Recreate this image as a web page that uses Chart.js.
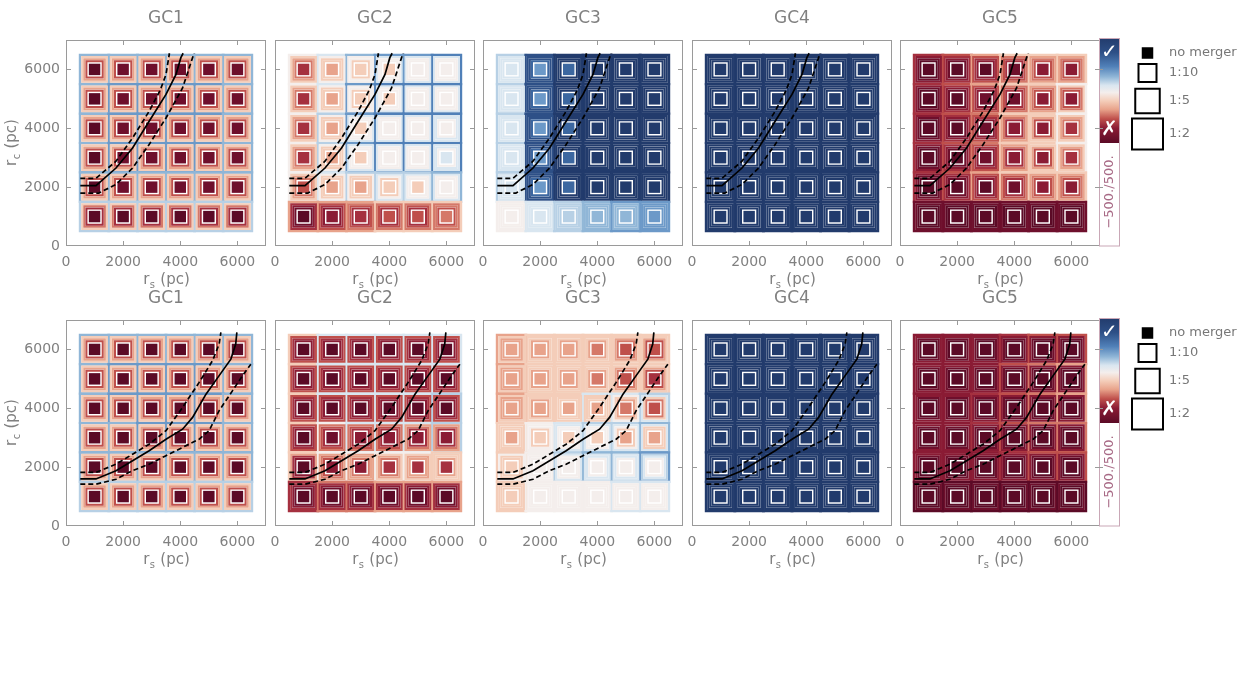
<!DOCTYPE html>
<html>
<head>
<meta charset="utf-8">
<script src="https://cdn.jsdelivr.net/npm/chart.js@4.4.1/dist/chart.umd.min.js"></script>
<style>
  body { margin: 0; background: #fff; width: 1256px; height: 689px; position: relative; overflow: hidden; }
  canvas { position: absolute; }
</style>
</head>
<body>
<script>
// grid of simulations: scale radius r_s and core radius r_c (pc)
const rs = [1000, 2000, 3000, 4000, 5000, 6000];
const rc = [6000, 5000, 4000, 3000, 2000, 1000];
const tickVals = [0, 2000, 4000, 6000];
const panelNames = ['GC1', 'GC2', 'GC3', 'GC4', 'GC5'];
const mergerLabels = ['no merger', '1:10', '1:5', '1:2'];

// colour level per cell, 'a' = strongly ruled out (dark red) ... 'i' = neutral ... 'q' = strongly favoured (navy)
const levels = 'abcdefghijklmnopq';
const palette = ['#5b0a26', '#6e0f2c', '#8a1b34', '#a5303f', '#bf4f4b', '#d57868', '#e8a38b', '#f4cdb9',
  '#f4eeec', '#d9e6f0', '#b7d0e5', '#90b6d7', '#6c99c8', '#5080b8', '#3c67a0', '#2e5087', '#223b6c'];

// each panel: [no merger, 1:10, 1:5, 1:2, outer], rows from r_c = 6000 down to 1000
const topGC1 = [
  ['abbbbb', 'abbbbb', 'abbbbb', 'abbbbb', 'abbbbb', 'aaaaaa'],
  ['eeeeee', 'eeeeee', 'eeeeee', 'eeeeee', 'eeeeee', 'dddddd'],
  ['gggggg', 'gggggg', 'gggggg', 'gggggg', 'gggggg', 'ffffff'],
  ['hhhhhh', 'hhhhhh', 'hhhhhh', 'hhhhhh', 'hhhhhh', 'hhhhhh'],
  ['llllll', 'lmmmml', 'lmmmml', 'lmmmml', 'llllll', 'kkkkkk']
];
const topGC2 = [
  ['dghhii', 'dghhii', 'dghiii', 'dghiij', 'egghhi', 'acdeef'],
  ['fhhiii', 'fhhiii', 'fhiiii', 'fhiiii', 'fhhhii', 'bcddde'],
  ['ghiiii', 'ghiiii', 'ghiiij', 'ghiiij', 'ghhiii', 'cdeeef'],
  ['hiijjj', 'hiijjj', 'hijjjj', 'hijjjj', 'hiijjj', 'deffff'],
  ['ijlmmn', 'ijmnnn', 'ikmnnn', 'ikmnnn', 'ijkkkl', 'ggghhh']
];
const topGC3 = [
  ['jmoqqq', 'jmoqqq', 'jmoqqq', 'jmoqqq', 'jmoqqq', 'ijkllm'],
  ['joqqqq', 'joqqqq', 'joqqqq', 'joqqqq', 'joqqqq', 'ijkllm'],
  ['jpqqqq', 'jpqqqq', 'jpqqqq', 'jpqqqq', 'jpqqqq', 'ijkllm'],
  ['jpqqqq', 'jpqqqq', 'jpqqqq', 'jpqqqq', 'jpqqqq', 'ijkllm'],
  ['kpqqqq', 'kpqqqq', 'kpqqqq', 'kpqqqq', 'kpqqqq', 'ijklmm']
];
const topGC4 = [
  ['qqqqqq', 'qqqqqq', 'qqqqqq', 'qqqqqq', 'qqqqqq', 'qqqqqq'],
  ['qqqqqq', 'qqqqqq', 'qqqqqq', 'qqqqqq', 'qqqqqq', 'qqqqqq'],
  ['qqqqqq', 'qqqqqq', 'qqqqqq', 'qqqqqq', 'qqqqqq', 'qqqqqq'],
  ['qqqqqq', 'qqqqqq', 'qqqqqq', 'qqqqqq', 'qqqqqq', 'qqqqqq'],
  ['qqqqqq', 'qqqqqq', 'qqqqqq', 'qqqqqq', 'qqqqqq', 'qqqqqq']
];
const topGC5 = [
  ['aaabcc', 'aabbcc', 'aabccd', 'aabccd', 'aaabcc', 'aaaaaa'],
  ['abcdee', 'abcdee', 'abcdef', 'abcdef', 'abcdee', 'aaaaaa'],
  ['bcdeff', 'bcdeff', 'bcdfgg', 'bcdfgg', 'bcdeff', 'aaaaaa'],
  ['cdefgg', 'cdefgh', 'cdeghh', 'cdeghh', 'cdefgg', 'bbbbbb'],
  ['deghhh', 'deghhi', 'defhhi', 'defhhi', 'deghhh', 'bbbbbb']
];
const botGC1 = [
  ['aaaaaa', 'aaaaaa', 'aaaaaa', 'aaaaaa', 'aaaaaa', 'aaaaaa'],
  ['eeeeee', 'eeeeee', 'eeeeee', 'eeeeee', 'eeeeee', 'eeeeee'],
  ['gggggg', 'gggggg', 'gggggg', 'gggggg', 'gggggg', 'gggggg'],
  ['hhhhhh', 'hhhhhh', 'hhhhhh', 'hhhhhh', 'hhhhhh', 'hhhhhh'],
  ['llllll', 'lmmmml', 'lmmmml', 'llmmml', 'llllll', 'kkkkkk']
];
const botGC2 = [
  ['aaaaaa', 'aaaaaa', 'aaaaaa', 'abcccc', 'accddd', 'aaaaaa'],
  ['cccccc', 'cccccc', 'cccccc', 'cddddd', 'ceffgg', 'bbbbbb'],
  ['dddddd', 'dddddd', 'dddddd', 'deeeff', 'dfgggh', 'cccccc'],
  ['eeeeee', 'eeeeee', 'eeeeee', 'efffgg', 'ggghhh', 'dddddd'],
  ['hjjjjj', 'hjjjjj', 'hjjjjk', 'hijjjk', 'hiiiih', 'dffggg']
];
const botGC3 = [
  ['gggfee', 'gggfed', 'ggggfe', 'ghhhgg', 'hiiiii', 'hiiiii'],
  ['ggggfe', 'ggggfe', 'gghhgf', 'hhiihh', 'hiiiii', 'hiiiii'],
  ['ghhhgg', 'ghhhgg', 'ghhhhh', 'hiiiih', 'hiijjj', 'hiiiii'],
  ['hhhhhh', 'hhhhhh', 'hhhhij', 'hijjjj', 'iijjjk', 'hiiiii'],
  ['ghhhhh', 'ghhhhh', 'ghhjjk', 'hijkkl', 'hikllm', 'hiiijj']
];
const botGC4 = topGC4;
const botGC5 = [
  ['aaaaaa', 'aaaaaa', 'aaaaaa', 'aaaaaa', 'aaaaaa', 'aaaaaa'],
  ['aaaaaa', 'aaaaaa', 'aaaaaa', 'aaaaaa', 'aaaaaa', 'aaaaaa'],
  ['bbbbbb', 'bbbbbb', 'bbbbbb', 'bbbbbb', 'bbbbbb', 'aaaaaa'],
  ['cccccc', 'cccccc', 'cccccc', 'cccccc', 'cccccc', 'bbbbbb'],
  ['cccdee', 'cccefg', 'ccdefg', 'ccdeff', 'cccdee', 'aaaaaa']
];

// r_c(r_s) relation and its scatter, top and bottom rows
const topSolid = [[500, 2050], [1050, 2050], [1750, 2650], [2330, 3330], [2910, 4240], [3500, 5150], [3850, 5830], [4020, 6400], [4100, 6550]];
const topUpper = [[500, 2300], [1050, 2300], [1750, 2880], [2330, 3670], [2910, 4580], [3300, 5300], [3500, 5830], [3620, 6550]];
const topLower = [[500, 1800], [1150, 1800], [1750, 2090], [2330, 2650], [2910, 3450], [3500, 4350], [4080, 5370], [4430, 6400], [4490, 6550]];
const botSolid = [[500, 1600], [1050, 1600], [1750, 1880], [2330, 2220], [2910, 2560], [3500, 2950], [4080, 3290], [4430, 3690], [4900, 4480], [5360, 5110], [5770, 5670], [5940, 6180], [5980, 6580]];
const botUpper = [[500, 1820], [1050, 1820], [1750, 2100], [2330, 2440], [2910, 2780], [3500, 3240], [4080, 4030], [4660, 4880], [5130, 5620], [5360, 6180], [5420, 6580]];
const botLower = [[500, 1420], [1050, 1420], [1750, 1590], [2330, 1880], [2910, 2100], [3500, 2390], [4080, 2670], [4660, 2950], [5010, 3240], [5360, 3920], [5830, 4600], [6180, 5110], [6470, 5500]];

// ring sizes as fraction of the 1000 pc grid spacing, and line widths
const ringSide = [0.40, 0.57, 0.72, 0.865, 1.02];
const ringWidth = [0, 2, 2, 2, 2.4];
const grey = '#808080';
const font = '"DejaVu Sans", sans-serif';

const colorOf = ch => palette[levels.indexOf(ch)];
const cells = [];
rc.forEach(yv => rs.forEach(xv => cells.push({ x: xv, y: yv })));

function subLabel(ctx, sub, cx, cy) {
  ctx.textAlign = 'left';
  ctx.textBaseline = 'middle';
  ctx.font = '15px ' + font;
  const w1 = ctx.measureText('r').width, w3 = ctx.measureText(' (pc)').width;
  ctx.font = '10px ' + font;
  const w2 = ctx.measureText(sub).width;
  let x0 = cx - (w1 + w2 + w3) / 2;
  ctx.font = '15px ' + font;
  ctx.fillText('r', x0, cy);
  ctx.font = '10px ' + font;
  ctx.fillText(sub, x0 + w1 + 0.5, cy + 5);
  ctx.font = '15px ' + font;
  ctx.fillText(' (pc)', x0 + w1 + w2 + 1, cy);
}

function drawExtras(ctx, a, y) {
  // colour bar
  const L = a.right - 1, W = 21, T = a.top - 2, G = a.top + 103;
  const grad = ctx.createLinearGradient(0, T, 0, G);
  [[0, 'q'], [0.14, 'p'], [0.27, 'n'], [0.37, 'l'], [0.45, 'j'], [0.52, 'i'], [0.6, 'h'], [0.68, 'g'], [0.77, 'e'], [0.86, 'c'], [1, 'a']]
    .forEach(([s, c]) => grad.addColorStop(s, colorOf(c)));
  ctx.fillStyle = grad;
  ctx.fillRect(L, T, W, G - T);
  ctx.strokeStyle = '#c9a7b6';
  ctx.lineWidth = 1;
  ctx.strokeRect(L + 0.5, T + 0.5, W - 1, a.bottom - T - 0.5);
  ctx.strokeStyle = '#9a9a9a';
  ctx.beginPath();
  [2000, 4000, 6000].forEach(v => {
    const py = Math.round(y.getPixelForValue(v)) + 0.5;
    ctx.moveTo(L, py); ctx.lineTo(L + 4, py);
  });
  ctx.stroke();
  ctx.fillStyle = '#fff';
  ctx.textAlign = 'center';
  ctx.textBaseline = 'middle';
  ctx.font = 'bold 20px ' + font;
  ctx.fillText('\u2713', L + W / 2, a.top + 13);
  ctx.fillText('\u2717', L + W / 2, a.top + 90);
  ctx.save();
  ctx.translate(L + W / 2, a.top + 152);
  ctx.rotate(-Math.PI / 2);
  ctx.fillStyle = '#a86a86';
  ctx.font = '13px ' + font;
  ctx.fillText('\u2212500./500.', 0, 0);
  ctx.restore();
  // merger legend
  const cx = a.right + 47.5;
  const rows = [[13, 11.5], [33, 18], [61, 24.5], [94, 31]];
  rows.forEach(([dy, s], k) => {
    const cy = a.top + dy;
    if (k === 0) {
      ctx.fillStyle = '#000';
      ctx.fillRect(cx - s / 2, cy - s / 2, s, s);
    } else {
      ctx.strokeStyle = '#000';
      ctx.lineWidth = 2;
      ctx.strokeRect(cx - s / 2, cy - s / 2, s, s);
    }
    ctx.fillStyle = '#777';
    ctx.textAlign = 'left';
    ctx.font = '13px ' + font;
    ctx.fillText(mergerLabels[k], a.right + 69, cy);
  });
}

const panelDecor = {
  id: 'panelDecor',
  afterDraw(chart, args, opts) {
    const { ctx, chartArea: a, scales: { x, y } } = chart;
    ctx.save();
    ctx.strokeStyle = '#9a9a9a';
    ctx.lineWidth = 1;
    ctx.strokeRect(a.left + 0.5, a.top + 0.5, a.right - a.left - 1, a.bottom - a.top - 1);
    ctx.beginPath();
    [2000, 4000, 6000].forEach(v => {
      const px = Math.round(x.getPixelForValue(v)) + 0.5;
      ctx.moveTo(px, a.bottom); ctx.lineTo(px, a.bottom - 5);
      ctx.moveTo(px, a.top); ctx.lineTo(px, a.top + 5);
      const py = Math.round(y.getPixelForValue(v)) + 0.5;
      ctx.moveTo(a.left, py); ctx.lineTo(a.left + 5, py);
      ctx.moveTo(a.right, py); ctx.lineTo(a.right - 5, py);
    });
    ctx.stroke();
    ctx.fillStyle = grey;
    ctx.textAlign = 'center';
    ctx.textBaseline = 'middle';
    ctx.font = '17px ' + font;
    ctx.fillText(opts.title, (a.left + a.right) / 2, a.top - 21);
    subLabel(ctx, 's', (a.left + a.right) / 2, a.bottom + 34);
    if (opts.yTitle) {
      ctx.save();
      ctx.translate(12, (a.top + a.bottom) / 2);
      ctx.rotate(-Math.PI / 2);
      subLabel(ctx, 'c', 0, 0);
      ctx.restore();
    }
    if (opts.extras) drawExtras(ctx, a, y);
    ctx.restore();
  }
};

function ringRadius(frac) {
  return ctx => {
    const s = ctx.chart.scales.x;
    const pitch = s.getPixelForValue(1000) - s.getPixelForValue(0);
    return frac * pitch / Math.SQRT2;
  };
}

function lineSet(pts, dash) {
  return {
    data: pts.map(([x, y]) => ({ x, y })),
    showLine: true, borderColor: '#000', borderWidth: 1.7, borderDash: dash,
    pointRadius: 0, order: 0
  };
}

function makePanel(grids, lines, i, rowTop) {
  const last = i === 4;
  const padRight = last ? 156 : 4;
  const cv = document.createElement('canvas');
  cv.width = 66 + 200 + padRight;
  cv.height = 296;
  cv.style.left = Math.round(i * 208.5) + 'px';
  cv.style.top = rowTop + 'px';
  document.body.appendChild(cv);

  const datasets = [lineSet(lines[0], []), lineSet(lines[1], [5, 3]), lineSet(lines[2], [5, 3])];
  grids.forEach((g, k) => {
    const colors = g.join('').split('').map(colorOf);
    datasets.push({
      data: cells,
      pointStyle: 'rect',
      pointRadius: ringRadius(ringSide[k]),
      backgroundColor: k === 0 ? colors : 'rgba(0,0,0,0)',
      borderColor: colors,
      borderWidth: ringWidth[k],
      order: k + 1
    });
  });

  const tickStyle = { color: grey, font: { family: font, size: 14 } };
  new Chart(cv, {
    type: 'scatter',
    data: { datasets },
    options: {
      responsive: false,
      devicePixelRatio: 1,
      animation: false,
      events: [],
      layout: { padding: { top: 40, right: padRight, left: 0, bottom: 0 } },
      plugins: {
        legend: { display: false },
        tooltip: { enabled: false },
        panelDecor: { title: panelNames[i], yTitle: i === 0, extras: last }
      },
      scales: {
        x: {
          type: 'linear', min: 0, max: 7000,
          afterBuildTicks: s => { s.ticks = tickVals.map(v => ({ value: v })); },
          afterFit: s => { s.height = 50; },
          grid: { display: false, drawTicks: false },
          border: { display: false },
          ticks: { ...tickStyle, padding: 8, autoSkip: false, maxRotation: 0, callback: v => String(v) }
        },
        y: {
          type: 'linear', min: 0, max: 7000,
          afterBuildTicks: s => { s.ticks = tickVals.map(v => ({ value: v })); },
          afterFit: s => { s.width = 66; },
          grid: { display: false, drawTicks: false },
          border: { display: false },
          ticks: { ...tickStyle, display: i === 0, padding: 6, autoSkip: false, callback: v => String(v) }
        }
      }
    },
    plugins: [panelDecor]
  });
}

const topPanels = [topGC1, topGC2, topGC3, topGC4, topGC5];
const botPanels = [botGC1, botGC2, botGC3, botGC4, botGC5];
topPanels.forEach((g, i) => makePanel(g, [topSolid, topUpper, topLower], i, 0));
botPanels.forEach((g, i) => makePanel(g, [botSolid, botUpper, botLower], i, 280));
</script>
</body>
</html>
